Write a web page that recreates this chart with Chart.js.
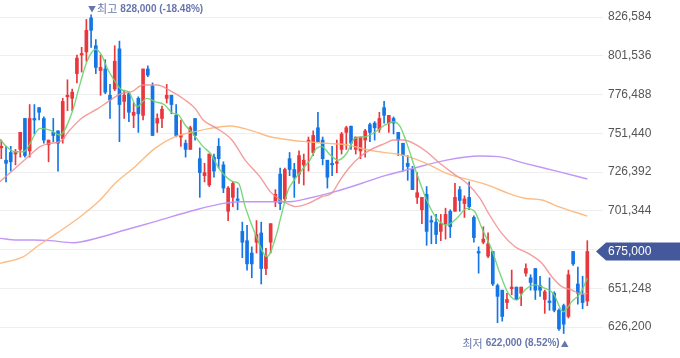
<!DOCTYPE html>
<html lang="ko">
<head>
<meta charset="utf-8">
<title>일봉 차트</title>
<script src="https://cdn.jsdelivr.net/npm/chart.js@4.4.1/dist/chart.umd.min.js"></script>
<style>
  html, body { margin: 0; padding: 0; background: #fff; }
  #wrap { width: 680px; height: 358px; position: relative; }
</style>
</head>
<body>
<div id="wrap"><canvas id="stockChart"></canvas></div>
<script>
// =======================
// 데이터 (원)
// =======================
const opens = [
  742000, 734000, 739000, 738000, 741000, 761000, 740000, 761000, 768000, 761000,
  744000, 752000, 753000, 748000, 775000, 774000, 790000, 802000, 804000, 826000,
  808000, 792000, 793000, 776000, 780000, 806000, 772000, 777000, 763000, 774000,
  763000, 793000, 782000, 758000, 761000, 774000, 776000, 763000, 749000, 745000,
  741000, 761000, 735000, 724000, 718000, 736000, 743000, 731000, 701000, 710000,
  709000, 688000, 682000, 674000, 681000, 687000, 664000, 681000, 707000, 725000,
  709000, 735000, 728000, 725000, 731000, 746000, 739000, 755000, 747000, 734000,
  732000, 732000, 741000, 752000, 756000, 741000, 740000, 747000, 757000, 758000,
  754000, 768000, 758000, 761000, 752000, 745000, 732000, 728000, 710000, 702000,
  712000, 695000, 694000, 688000, 693000, 701000, 701000, 715000, 706000, 710000,
  697000, 675000, 681000, 672000, 675000, 653000, 650000, 642000, 651000, 652000,
  648000, 661000, 658000, 664000, 653000, 644000, 643000, 648000, 637000, 640000,
  633000, 675000, 654000, 647000, 643000
];
const highs = [
  747000, 743000, 743000, 741000, 752000, 761000, 770000, 770000, 768000, 762000,
  747000, 761000, 753000, 774000, 786000, 780000, 802000, 807000, 825000, 828000,
  812000, 802000, 799000, 783000, 808000, 811000, 779000, 778000, 771000, 775000,
  793000, 795000, 784000, 764000, 769000, 783000, 776000, 770000, 760000, 747000,
  756000, 761000, 742000, 732000, 738000, 738000, 748000, 733000, 717000, 720000,
  716000, 694000, 692000, 678000, 695000, 694000, 677000, 693000, 715000, 729000,
  729000, 739000, 732000, 740000, 738000, 749000, 753000, 765000, 749000, 734000,
  743000, 747000, 752000, 756000, 756000, 749000, 749000, 754000, 758000, 759000,
  765000, 772000, 763000, 762000, 752000, 745000, 737000, 730000, 726000, 710000,
  717000, 698000, 699000, 699000, 703000, 702000, 719000, 717000, 711000, 720000,
  698000, 678000, 691000, 687000, 675000, 654000, 650000, 648000, 663000, 652000,
  652000, 667000, 660000, 664000, 659000, 650000, 658000, 649000, 638000, 641000,
  663000, 675000, 665000, 659000, 682000
];
const lows = [
  735000, 720000, 727000, 731000, 736000, 736000, 736000, 751000, 760000, 745000,
  733000, 746000, 727000, 745000, 766000, 766000, 784000, 791000, 798000, 807000,
  790000, 776000, 777000, 761000, 779000, 746000, 761000, 759000, 755000, 752000,
  760000, 788000, 750000, 752000, 755000, 771000, 764000, 749000, 743000, 736000,
  741000, 747000, 710000, 720000, 717000, 723000, 729000, 713000, 695000, 704000,
  702000, 671000, 663000, 658000, 674000, 654000, 660000, 674000, 704000, 702000,
  707000, 724000, 710000, 719000, 718000, 727000, 737000, 746000, 731000, 716000,
  724000, 726000, 738000, 741000, 741000, 738000, 735000, 736000, 746000, 747000,
  752000, 758000, 752000, 751000, 737000, 727000, 721000, 715000, 706000, 693000,
  679000, 680000, 680000, 682000, 683000, 684000, 701000, 701000, 697000, 702000,
  681000, 661000, 680000, 671000, 653000, 629000, 630000, 638000, 647000, 644000,
  640000, 659000, 650000, 644000, 646000, 635000, 637000, 636000, 624000, 622000,
  632000, 666000, 641000, 638000, 640000
];
const closes = [
  743000, 732000, 733000, 739000, 752000, 737000, 761000, 760000, 765000, 747000,
  747000, 750000, 745000, 772000, 776000, 778000, 800000, 803000, 818000, 818000,
  794000, 794000, 778000, 773000, 798000, 770000, 776000, 765000, 765000, 764000,
  793000, 789000, 750000, 761000, 767000, 776000, 770000, 750000, 750000, 741000,
  755000, 750000, 726000, 726000, 738000, 727000, 735000, 716000, 716000, 719000,
  708000, 681000, 667000, 667000, 686000, 664000, 672000, 693000, 712000, 706000,
  728000, 728000, 723000, 737000, 734000, 747000, 750000, 746000, 735000, 723000,
  731000, 733000, 751000, 755000, 745000, 749000, 749000, 753000, 752000, 755000,
  761000, 763000, 763000, 758000, 747000, 737000, 730000, 715000, 713000, 710000,
  688000, 694000, 686000, 693000, 699000, 691000, 710000, 708000, 709000, 704000,
  684000, 674000, 683000, 680000, 654000, 646000, 633000, 644000, 652000, 644000,
  652000, 664000, 655000, 650000, 650000, 649000, 642000, 637000, 625000, 628000,
  660000, 667000, 648000, 642000, 675000
];

// 이동평균선 [봉 번호, 값]
const ma5 = [
  [-0.3, 747700], [1.1, 742800], [2.9, 739500], [4.7, 739500], [8.2, 754600], [10.3, 753500],
  [12.4, 750300], [14.9, 764300], [16.7, 783700], [18.1, 797700], [20, 805700], [21.2, 802000],
  [22.6, 792300], [24.1, 784800], [25.5, 779400], [26.9, 778300], [28.7, 768600], [30.8, 774000],
  [32.5, 771900], [34.6, 769700], [36.1, 764700], [37.5, 763200], [38.9, 756800], [40.6, 751000],
  [42.7, 742800], [44.2, 738500], [46.3, 727700], [49.1, 720100], [50.2, 719100], [51.6, 704000],
  [53.7, 686700], [56.2, 671700], [58.3, 686700], [59, 695400], [60.7, 714800], [61.5, 719100],
  [63.6, 727700], [65.3, 734100], [66.7, 741700], [67.8, 742800], [69.6, 737400], [71.3, 734100],
  [73.1, 738500], [74.8, 748200], [77, 749200], [78.7, 751400], [81.2, 756800], [83, 758900],
  [84.4, 755700], [85.8, 744900], [87.9, 725500], [90, 708300], [92.1, 696500], [94.2, 692100],
  [96.4, 696500], [98.5, 702900], [100.2, 700700], [101.7, 690000], [103.8, 676000], [105.5, 660900],
  [107.3, 647900], [109.1, 643600], [110.8, 650100], [112.9, 653400], [115, 651200], [116.8, 647900],
  [118.9, 636100], [120.7, 642600], [122.5, 647900], [124, 657700]
];
const ma20 = [
  [-0.3, 720100], [3.3, 729800], [5.7, 736300], [8.2, 742800], [10.3, 744900], [12.4, 746000],
  [14.5, 753500], [17, 761100], [20.5, 767500], [22.6, 771900], [25.5, 777200], [27.6, 778300],
  [30, 782600], [32.9, 782600], [36.1, 778300], [38.9, 772900], [41, 767500], [42.7, 760000],
  [45.6, 754600], [48.8, 747100], [51.6, 734100], [54.7, 723400], [56.9, 713700], [59, 708300],
  [61.1, 705100], [62.2, 704000], [65, 706100], [67.8, 710400], [69.9, 712600], [71.7, 721200],
  [73.8, 729800], [75.9, 736300], [78, 740600], [81.2, 744900], [83, 747100], [85.1, 747100],
  [87.9, 743800], [90, 739500], [92.8, 732000], [95.6, 725500], [98.5, 719100], [101.3, 709400],
  [103.1, 699700], [105.9, 686700], [108.7, 678100], [111.5, 673800], [114.4, 667400], [116.5, 658700],
  [118.6, 652300], [120.7, 650100], [122.8, 647500], [124, 647900]
];
const ma60 = [
  [-0.3, 667300], [4.7, 671700], [7.5, 678100], [11.7, 686700], [16.7, 697500], [20.9, 708300],
  [24.1, 719100], [28.3, 729800], [32.5, 741700], [36.8, 749200], [41, 752500], [44.2, 754600],
  [48.4, 756100], [52.6, 753500], [56.9, 749200], [61.1, 747100], [64.3, 746000], [69.2, 744900],
  [73.4, 743800], [77.7, 740600], [81.2, 738900], [83.7, 738000], [87.2, 735200], [90.7, 730900],
  [94.2, 725500], [97.8, 722300], [101.3, 719500], [103.8, 716900], [107.3, 712600], [110.8, 709400],
  [114.4, 708300], [117.9, 704000], [124, 697900]
];
const ma120 = [
  [-0.3, 683500], [3.3, 682400], [6.8, 682400], [10.3, 682000], [15.2, 680700], [20.9, 684200],
  [26.2, 688900], [32.5, 694300], [41, 701800], [47, 706100], [50.5, 707200], [61.1, 707200],
  [65, 709400], [70.6, 713700], [76.3, 719100], [81.2, 724000], [87.2, 728800], [94.2, 734100],
  [101.3, 736700], [105.2, 736300], [110.8, 732000], [117.9, 726600], [124, 721900]
];

// 가격축 눈금
const priceTicks = [626200, 651248, 676296, 701344, 726392, 751440, 776488, 801536, 826584];

// =======================
// 스타일
// =======================
const UP = '#e8373d';
const DOWN = '#1476e6';
const NUM_FONT = 'Arial, "Liberation Sans", sans-serif';
const CJK_FONT = '"Noto Sans CJK KR", sans-serif';
const NOTE_COLOR = '#6777ad';

const idx = opens.map((_, i) => i);
const isUp = i => closes[i] >= opens[i];
const candleColor = ctx => isUp(ctx.dataIndex) ? UP : DOWN;
const toPoints = arr => arr.map(p => ({ x: p[0], y: p[1] }));

const maLine = (label, pts, color) => ({
    type: 'line',
    label: label,
    data: toPoints(pts),
    borderColor: color,
    borderWidth: 1.4,
    pointRadius: 0,
    cubicInterpolationMode: 'monotone',
    fill: false
});

const fmt = v => v.toLocaleString('en-US');

// 최고/최저 및 현재가 표시
const overlay = {
    id: 'overlay',
    afterDraw(chart) {
        const { ctx, chartArea, scales: { x, y } } = chart;
        const last = closes[closes.length - 1];
        const hiVal = Math.max(...highs);
        const loVal = Math.min(...lows);
        const hiIdx = highs.indexOf(hiVal);
        const loIdx = lows.indexOf(loVal);

        ctx.save();

        // 현재가 배지
        const py = y.getPixelForValue(last);
        const tip = chartArea.right - 7;
        ctx.fillStyle = '#44599b';
        ctx.beginPath();
        ctx.moveTo(tip, py);
        ctx.lineTo(tip + 10, py - 9);
        ctx.lineTo(chart.width, py - 9);
        ctx.lineTo(chart.width, py + 9);
        ctx.lineTo(tip + 10, py + 9);
        ctx.closePath();
        ctx.fill();
        ctx.fillStyle = '#ffffff';
        ctx.font = '12px ' + NUM_FONT;
        ctx.textBaseline = 'middle';
        ctx.textAlign = 'left';
        ctx.fillText(fmt(last), chartArea.right + 5, py + 0.5);

        // 최고
        const hx = x.getPixelForValue(hiIdx);
        const hy = y.getPixelForValue(hiVal) - 6;
        const hiPct = ((last - hiVal) / hiVal * 100).toFixed(2);
        ctx.fillStyle = NOTE_COLOR;
        ctx.font = '8px ' + CJK_FONT;
        ctx.textAlign = 'center';
        ctx.fillText('▼', hx + 1, hy);
        ctx.textAlign = 'left';
        ctx.font = '11px ' + CJK_FONT;
        let cx = hx + 6;
        ctx.fillText('최고', cx, hy);
        cx += ctx.measureText('최고').width + 3;
        ctx.font = 'bold 10px ' + NUM_FONT;
        ctx.fillText(fmt(hiVal) + ' (' + hiPct + '%)', cx, hy);

        // 최저
        const lx = x.getPixelForValue(loIdx);
        const ly = y.getPixelForValue(loVal) + 10;
        const loPct = ((last - loVal) / loVal * 100).toFixed(2);
        ctx.font = '8px ' + CJK_FONT;
        ctx.textAlign = 'center';
        ctx.fillText('▲', lx + 1, ly);
        ctx.textAlign = 'right';
        ctx.font = 'bold 10px ' + NUM_FONT;
        const loText = fmt(loVal) + ' (' + loPct + '%)';
        ctx.fillText(loText, lx - 4, ly);
        const lw = ctx.measureText(loText).width;
        ctx.font = '11px ' + CJK_FONT;
        ctx.fillText('최저', lx - 4 - lw - 3, ly);

        ctx.restore();
    }
};

new Chart(document.getElementById('stockChart'), {
    type: 'bar',
    data: {
        datasets: [
            maLine('5일', ma5, 'rgba(110, 210, 110, 0.9)'),
            maLine('20일', ma20, 'rgba(242, 140, 140, 0.85)'),
            maLine('60일', ma60, 'rgba(252, 182, 120, 0.9)'),
            maLine('120일', ma120, 'rgba(190, 145, 245, 0.95)'),
            {
                label: '몸통',
                data: idx.map(i => ({ x: i, y: [opens[i], closes[i]] })),
                backgroundColor: candleColor,
                barThickness: 3,
                minBarLength: 1,
                grouped: false
            },
            {
                label: '꼬리',
                data: idx.map(i => ({ x: i, y: [lows[i], highs[i]] })),
                backgroundColor: candleColor,
                barThickness: 1,
                minBarLength: 1,
                grouped: false
            }
        ]
    },
    options: {
        responsive: true,
        maintainAspectRatio: false,
        animation: false,
        layout: { padding: 0 },
        plugins: {
            legend: { display: false },
            tooltip: { enabled: false }
        },
        scales: {
            x: {
                type: 'linear',
                display: false,
                offset: false,
                min: -0.275,
                max: 127.32
            },
            y: {
                position: 'right',
                min: 606162,
                max: 837573,
                afterBuildTicks: scale => {
                    scale.ticks = priceTicks.map(v => ({ value: v }));
                },
                afterFit: scale => {
                    scale.width = 77;
                    scale.paddingTop = 0;
                    scale.paddingBottom = 0;
                },
                border: { display: false },
                grid: {
                    color: '#eeeeee',
                    drawTicks: false
                },
                ticks: {
                    padding: 5,
                    color: '#555555',
                    font: { family: NUM_FONT, size: 12 },
                    callback: v => v === 676296 ? '' : fmt(v)
                }
            }
        }
    },
    plugins: [overlay]
});
</script>
</body>
</html>
